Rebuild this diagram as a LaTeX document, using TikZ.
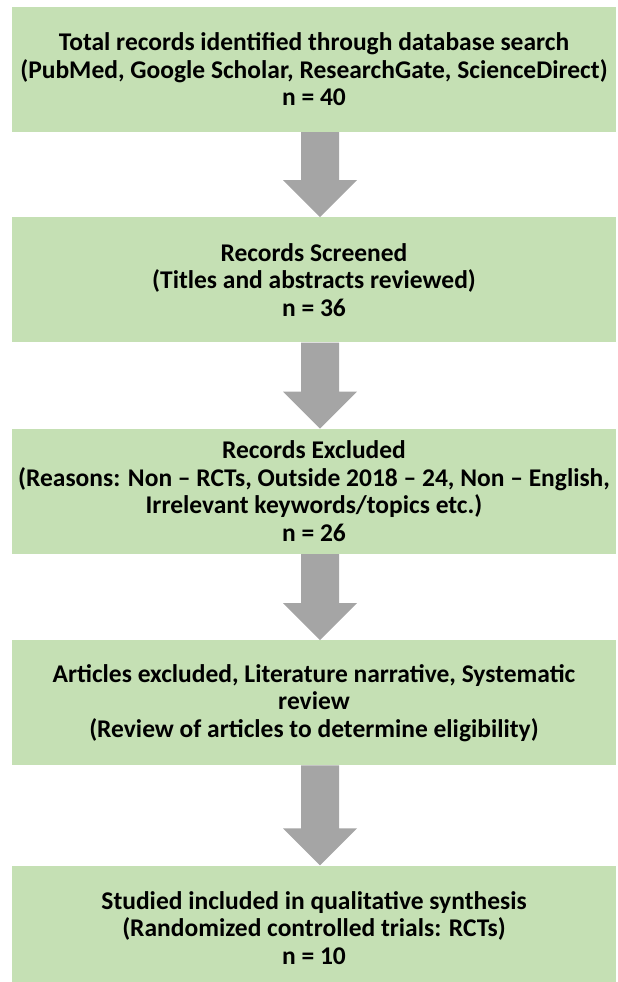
\documentclass[tikz,border=0pt]{standalone}
\usepackage{fontspec}
\setmainfont{Carlito}
\usepackage{tikz}
\usetikzlibrary{positioning,calc}
\definecolor{boxgreen}{HTML}{C5E0B4}
\definecolor{arrowgray}{HTML}{A5A5A5}
\tikzset{
  every node/.style={font=\fontsize{25.5}{27.5}\selectfont\bfseries,text=black},
  stage/.style={fill=boxgreen,draw=none,align=center,inner sep=0pt,minimum width=604pt,minimum height=125pt},
  fatarrow/.style={fill=arrowgray,draw=none}
}
% block arrow from the bottom of one box to the top of the next
\newcommand{\blockarrow}[2]{%
  \fill[fatarrow] ($(#1.south)+(6,0)+(-19,0)$) -- ($(#2.north)+(6,0)+(-19,37)$)
    -- ($(#2.north)+(6,0)+(-37,37)$) -- ($(#2.north)+(6,0)$)
    -- ($(#2.north)+(6,0)+(37,37)$) -- ($(#2.north)+(6,0)+(19,37)$)
    -- ($(#1.south)+(6,0)+(19,0)$) -- cycle;}
\begin{document}
\begin{tikzpicture}[x=1pt,y=1pt,node distance=85pt]
  \useasboundingbox (0,0) rectangle (618,-982);
  \node[stage] (search) at (314,-69.5) {Total records identified through database search\\(PubMed, Google Scholar, ResearchGate, ScienceDirect)\\n = 40};
  \node[stage,below=of search] (screen) {Records Screened\\(Titles and abstracts reviewed)\\n = 36};
  \node[stage,below=86pt of screen] (excl) {Records Excluded\\(Reasons: Non -- RCTs, Outside 2018 -- 24, Non -- English,\\Irrelevant keywords/topics etc.)\\n = 26};
  \node[stage,below=86pt of excl] (elig) {Articles excluded, Literature narrative, Systematic\\review\\(Review of articles to determine eligibility)};
  \node[stage,below=100pt of elig] (incl) {Studied included in qualitative synthesis\\(Randomized controlled trials: RCTs)\\n = 10};

  \blockarrow{search}{screen}
  \blockarrow{screen}{excl}
  \blockarrow{excl}{elig}
  \blockarrow{elig}{incl}
\end{tikzpicture}
\end{document}
